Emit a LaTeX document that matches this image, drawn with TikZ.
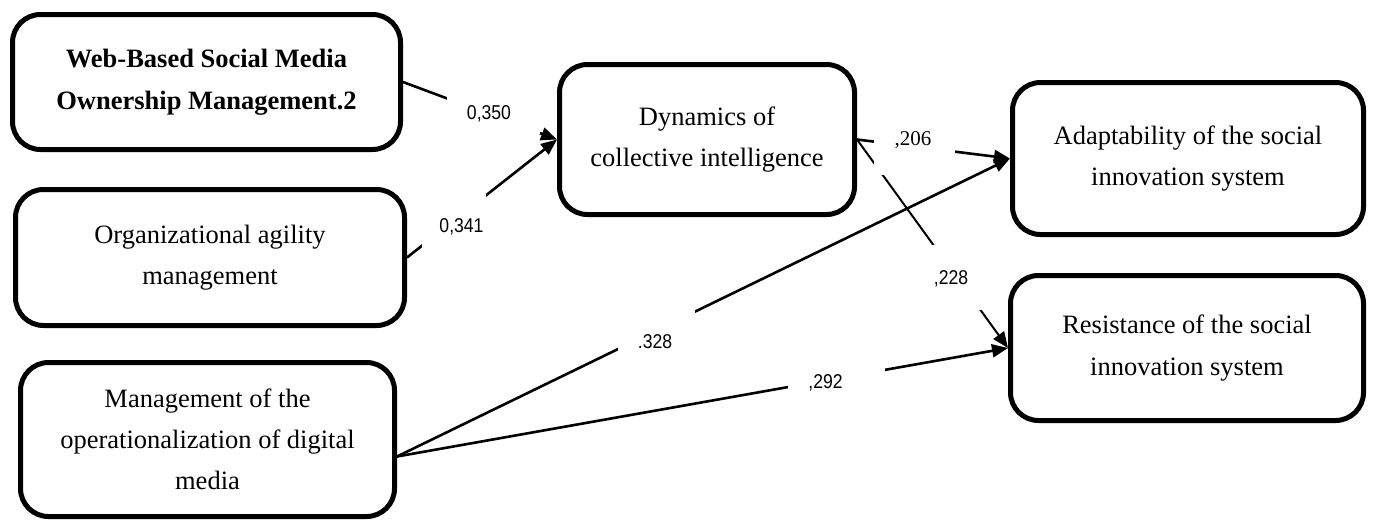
\documentclass[tikz,border=0pt]{standalone}
\usepackage{fontspec}
\usepackage{graphicx}
\setmainfont{Liberation Serif}
\newfontfamily\labfont{Liberation Sans}
\usetikzlibrary{arrows.meta}
\begin{document}
\begin{tikzpicture}[x=1pt,y=-1pt,
  box/.style={draw, line width=5pt, rounded corners=28pt, align=center, inner sep=0pt,
    font=\fontsize{26.5}{41}\selectfont},
  conn/.style={line width=2.6pt, -{Triangle[length=16pt,width=13pt]}},
  num/.style={font=\labfont\fontsize{20}{24}\selectfont, inner sep=0pt, anchor=base},
  snum/.style={font=\fontsize{21}{24}\selectfont, inner sep=0pt, anchor=base},
  mask/.style={fill=white}
]
\useasboundingbox (0,0) rectangle (1373,523);

% boxes
\node[box, minimum width=388, minimum height=135, font=\fontsize{26.5}{42}\selectfont\bfseries] (web) at (206.5,82) {Web-Based Social Media\\Ownership Management.2};
\node[box, minimum width=389, minimum height=136] (org) at (210,257.5) {Organizational agility\\management};
\node[box, minimum width=374, minimum height=154] (ops) at (207.5,439.5) {Management of the\\operationalization of digital\\media};
\node[box, minimum width=295, minimum height=150] (dyn) at (707,139.5) {Dynamics of\\collective intelligence};
\node[box, minimum width=351, minimum height=152] (ada) at (1188,158.5) {Adaptability of the social\\innovation system};
\node[box, minimum width=353, minimum height=145, font=\fontsize{26.5}{42}\selectfont] (res) at (1187,348) {Resistance of the social\\innovation system};

\coordinate (opsout) at ([yshift=-17pt]ops.east);

% connectors
\draw[conn] (web.east) -- (dyn.west);
\draw[conn] (org.east) -- (dyn.west);
\draw[conn] (dyn.east) -- (ada.west);
\draw[conn, line width=2pt] (dyn.east) -- (res.west);
\draw[conn] (opsout) -- (ada.west);
\draw[conn] (opsout) -- (res.west);

% label backgrounds
\fill[mask] (447,92) rectangle (540,134);
\fill[mask] (422,194) rectangle (486,250);
\fill[mask] (618,305) rectangle (695,360);
\fill[mask] (788,360) rectangle (885,400);
\fill[mask] (874,120) rectangle (955,175);
\fill[mask] (925,245) rectangle (985,310);

% labels
\node[num] (l350) at (489,119) {\scalebox{0.88}[1]{0,350}};
\node[num] (l341) at (461.5,232) {\scalebox{0.88}[1]{0,341}};
\node[num] (l328) at (655,348) {\scalebox{0.88}[1]{.328}};
\node[num] (l292) at (825.5,388) {\scalebox{0.88}[1]{,292}};
\node[snum] (l206) at (913,145) {,206};
\node[num] (l228) at (951,284) {\scalebox{0.88}[1]{,228}};
\end{tikzpicture}
\end{document}
